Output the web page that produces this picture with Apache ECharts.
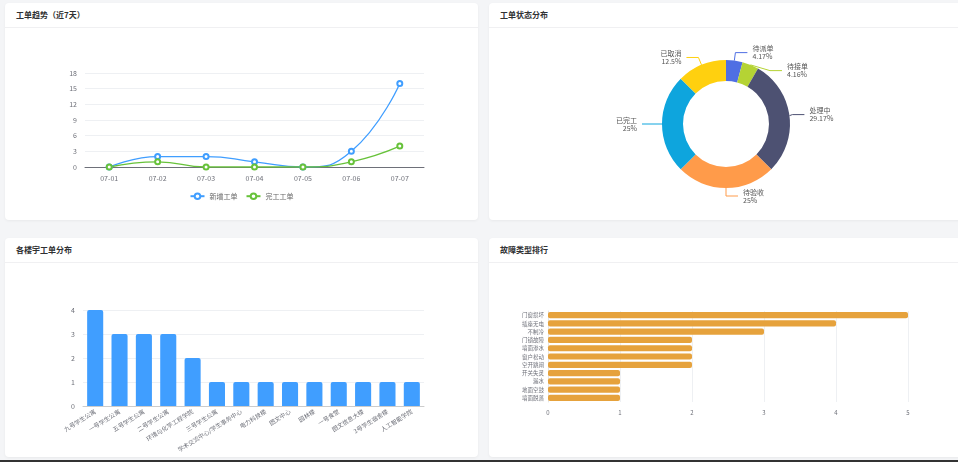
<!DOCTYPE html>
<html>
<head>
<meta charset="utf-8">
<script src="https://cdn.jsdelivr.net/npm/echarts@6/dist/echarts.min.js"></script>
<style>
  html, body { margin: 0; padding: 0; width: 958px; height: 462px; overflow: hidden; background: #f4f5f7; font-family: "Noto Sans CJK SC", "Noto Sans", sans-serif; }
  .card { position: absolute; background: #fff; border-radius: 4px; box-shadow: 0 1px 3px rgba(0,0,0,0.05); overflow: hidden; }
  .card .hd { height: 24px; line-height: 24px; padding-left: 11px; font-size: 8px; font-weight: bold; color: #303133; border-bottom: 1px solid #f0f0f2; }
  .card .bd { position: absolute; left: 0; top: 0; right: 0; bottom: 0; }
  #bottomline { position: absolute; left: 0; right: 0; bottom: 0; height: 2px; background: #333; }
</style>
</head>
<body>
<div class="card" style="left:5px;top:3px;width:473px;height:217px;"><div class="hd">工单趋势（近7天）</div><div class="bd" id="trend"></div></div>
<div class="card" style="left:489px;top:3px;width:473px;height:217px;"><div class="hd">工单状态分布</div><div class="bd" id="status"></div></div>
<div class="card" style="left:5px;top:238px;width:473px;height:219px;"><div class="hd">各楼宇工单分布</div><div class="bd" id="building"></div></div>
<div class="card" style="left:489px;top:238px;width:473px;height:219px;"><div class="hd">故障类型排行</div><div class="bd" id="fault"></div></div>
<div id="bottomline"></div>
<script>
var days = ['07-01', '07-02', '07-03', '07-04', '07-05', '07-06', '07-07'];
var newOrders = [0, 2, 2, 1, 0, 3, 16];
var doneOrders = [0, 1, 0, 0, 0, 1, 4];

var statusNames = ['待派单', '待接单', '处理中', '待验收', '已完工', '已取消'];
var statusValues = [1, 1, 7, 6, 6, 3];
var statusColors = ['#4f6fe3', '#b5d334', '#4d5172', '#ff9b4a', '#0ea5dd', '#ffd00f'];

var buildings = ['九号学生公寓', '一号学生公寓', '五号学生公寓', '二号学生公寓', '环境与化学工程学院', '三号学生公寓',
  '学术交流中心/学生事务中心', '电力科技楼', '图文中心', '园林楼', '一号食堂', '图文信息大楼', '3号学生宿舍楼', '人工智能学院'];
var buildingCounts = [4, 3, 3, 3, 2, 1, 1, 1, 1, 1, 1, 1, 1, 1];

var faultTypes = ['门窗损坏', '插座无电', '不制冷', '门锁故障', '墙面渗水', '窗户松动', '空开跳闸', '开关失灵', '漏水', '地面空鼓', '墙面脱落'];
var faultCounts = [5, 4, 3, 2, 2, 2, 2, 1, 1, 1, 1];

var font = '"Noto Sans CJK SC", sans-serif';
var axisLabel = { fontSize: 7, color: '#6e7079', fontFamily: font };

var trendChart = echarts.init(document.getElementById('trend'));
trendChart.setOption({
  animation: false,
  textStyle: { fontFamily: font },
  legend: {
    data: ['新增工单', '完工工单'],
    bottom: 15,
    left: 'center',
    itemWidth: 14, itemHeight: 7, itemGap: 8,
    textStyle: { fontSize: 7, color: '#666' }
  },
  grid: { left: 80, right: 54, top: 70, bottom: 53 },
  xAxis: {
    type: 'category', data: days, boundaryGap: true,
    axisTick: { show: false },
    axisLine: { lineStyle: { color: '#6e7079' } },
    axisLabel: axisLabel
  },
  yAxis: {
    type: 'value', min: 0, max: 18, interval: 3,
    axisLabel: axisLabel,
    splitLine: { lineStyle: { color: '#eef0f3' } }
  },
  series: [
    { name: '新增工单', type: 'line', smooth: true, data: newOrders, symbol: 'emptyCircle', symbolSize: 5,
      itemStyle: { color: '#409EFF' }, lineStyle: { width: 1.3 } },
    { name: '完工工单', type: 'line', smooth: true, data: doneOrders, symbol: 'emptyCircle', symbolSize: 5,
      itemStyle: { color: '#67C23A' }, lineStyle: { width: 1.3 } }
  ]
});

var statusChart = echarts.init(document.getElementById('status'));
statusChart.setOption({
  animation: false,
  textStyle: { fontFamily: font },
  color: statusColors,
  series: [{
    type: 'pie',
    center: [237, 121],
    radius: [43, 64],
    startAngle: 90,
    label: { formatter: '{b}\n{d}%', fontSize: 7, color: '#555', lineHeight: 8 },
    labelLine: { length: 8, length2: 12 },
    data: statusNames.map(function (n, i) { return { name: n, value: statusValues[i] }; })
  }]
});

var buildingChart = echarts.init(document.getElementById('building'));
buildingChart.setOption({
  animation: false,
  textStyle: { fontFamily: font },
  grid: { left: 78, right: 54, top: 72, bottom: 51 },
  xAxis: {
    type: 'category', data: buildings,
    axisTick: { show: false },
    axisLine: { lineStyle: { color: '#ccc' } },
    axisLabel: { fontSize: 6, color: '#6e7079', rotate: 32, interval: 0, margin: 5, fontFamily: font }
  },
  yAxis: {
    type: 'value', min: 0, max: 4, interval: 1,
    axisLabel: axisLabel,
    splitLine: { lineStyle: { color: '#eef0f3' } }
  },
  series: [{
    type: 'bar', data: buildingCounts, barWidth: '66%',
    itemStyle: { color: '#409EFF', borderRadius: [2, 2, 0, 0] }
  }]
});

var faultChart = echarts.init(document.getElementById('fault'));
faultChart.setOption({
  animation: false,
  textStyle: { fontFamily: font },
  grid: { left: 59, right: 54, top: 73, bottom: 55 },
  xAxis: {
    type: 'value', min: 0, max: 5, interval: 1,
    axisLabel: { fontSize: 6, color: '#6e7079', fontFamily: font },
    splitLine: { lineStyle: { color: '#eef0f3' } }
  },
  yAxis: {
    type: 'category', data: faultTypes, inverse: true,
    axisTick: { show: false },
    axisLine: { lineStyle: { color: '#e5e5e5' } },
    axisLabel: { fontSize: 5.5, color: '#6e7079', margin: 4, fontFamily: font }
  },
  series: [{
    type: 'bar', data: faultCounts, barCategoryGap: '25%',
    itemStyle: { color: '#E6A23C', borderRadius: 2 }
  }]
});
</script>
</body>
</html>
